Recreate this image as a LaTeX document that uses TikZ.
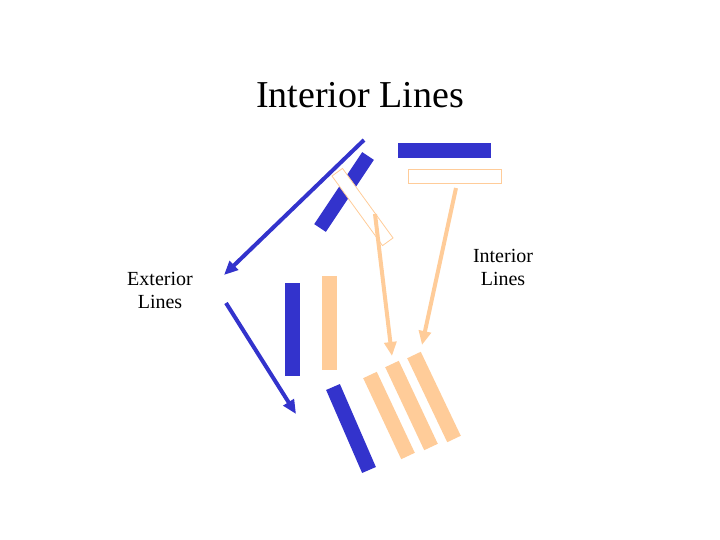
\documentclass[tikz,border=0pt]{standalone}
\usepackage{fontspec}
\setmainfont{Liberation Serif}
\usetikzlibrary{arrows.meta}
\definecolor{bblue}{HTML}{3333CC}
\definecolor{beige}{HTML}{FFCC99}
\begin{document}
\begin{tikzpicture}[x=1pt,y=-1pt,
  bbar/.style={draw=bblue,line width=15pt},
  pbar/.style={draw=beige,line width=15pt},
  obox/.style={draw=beige,line width=0.8pt,fill=white},
  barrow/.style={draw=bblue,line width=4pt,-{Triangle[length=14pt,width=12pt]}},
  parrow/.style={draw=beige,line width=4pt,-{Triangle[length=14pt,width=12pt]}},
  lbl/.style={font=\fontsize{20}{23}\selectfont,align=center}]
\useasboundingbox (0,0) rectangle (720,540);
\node[font=\fontsize{38}{44}\selectfont] (title) at (360,95) {Interior Lines};
\node[lbl] (ext) at (160,290) {Exterior\\Lines};
\node[lbl] (int) at (503,267) {Interior\\Lines};
% top bars
\coordinate (h1a) at (398,150.5); \coordinate (h1b) at (491,150.5);
\draw[bbar] (h1a) -- (h1b);
\node[obox,minimum width=93pt,minimum height=14pt,inner sep=0pt] (hbox) at (454.5,176) {};
\coordinate (d1a) at (368,156); \coordinate (d1b) at (320,228);
\draw[bbar,line width=14pt] (d1a) -- (d1b);
\node[obox,minimum width=86pt,minimum height=13pt,inner sep=0pt,rotate=-54] (dbox) at (362.5,207) {};
% vertical bars
\coordinate (v1a) at (292.5,283); \coordinate (v1b) at (292.5,376);
\draw[bbar] (v1a) -- (v1b);
\coordinate (v2a) at (329.5,276); \coordinate (v2b) at (329.5,370);
\draw[pbar] (v2a) -- (v2b);
% lower bars
\coordinate (l1a) at (333,387); \coordinate (l1b) at (369,470);
\draw[bbar] (l1a) -- (l1b);
\coordinate (p1a) at (370,375); \coordinate (p1b) at (408,456);
\coordinate (p2a) at (392,364); \coordinate (p2b) at (431,447);
\coordinate (p3a) at (414,355); \coordinate (p3b) at (454,439);
\draw[pbar] (p1a) -- (p1b);
\draw[pbar] (p2a) -- (p2b);
\draw[pbar] (p3a) -- (p3b);
% arrows
\coordinate (a1s) at (364,140); \coordinate (a1e) at (224,275);
\draw[barrow] (a1s) -- (a1e);
\coordinate (a2s) at (226,303); \coordinate (a2e) at (296,414);
\draw[barrow] (a2s) -- (a2e);
\coordinate (a3s) at (375,214); \coordinate (a3e) at (392,356);
\draw[parrow] (a3s) -- (a3e);
\coordinate (a4s) at (456,188); \coordinate (a4e) at (422,345);
\draw[parrow] (a4s) -- (a4e);
\end{tikzpicture}
\end{document}
